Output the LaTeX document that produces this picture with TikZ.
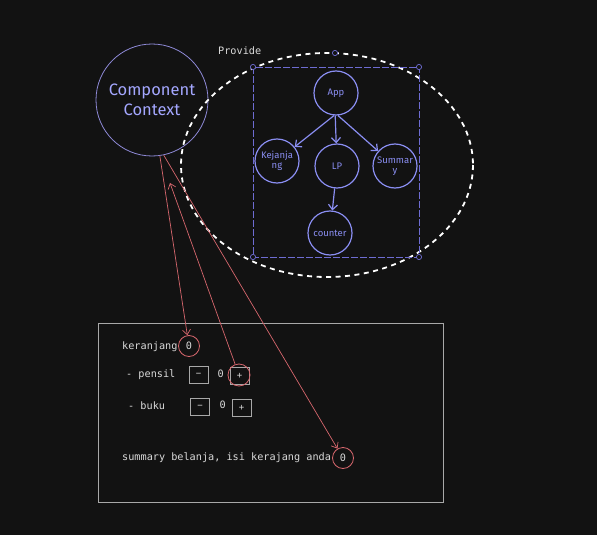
\documentclass[tikz,border=0pt]{standalone}
\usepackage{fontspec}
\setmonofont{DejaVu Sans Mono}
\newfontfamily\handfont{Fira Sans}
\usetikzlibrary{arrows.meta}

\definecolor{bgc}{HTML}{121212}
\definecolor{handtxt}{HTML}{A4A7FF}
\definecolor{ctxline}{HTML}{8E89D6}
\definecolor{nodeblue}{HTML}{8A8EF2}
\definecolor{selline}{HTML}{6E6CD2}
\definecolor{pinkred}{HTML}{D7676E}
\definecolor{boxgray}{HTML}{A8A8A8}
\definecolor{monotxt}{HTML}{DADADA}

\begin{document}
\begin{tikzpicture}[x=1pt,y=-1pt]
  \tikzstyle{cnode} = [draw=nodeblue, line width=1.2pt, circle, minimum size=44pt, inner sep=0pt,
                       text=nodeblue, font=\handfont\fontsize{9.5}{10.5}\selectfont, align=center]
  \tikzstyle{mtext} = [anchor=west, inner sep=0pt, text=monotxt, font=\ttfamily\fontsize{10.2}{12}\selectfont]
  \tikzstyle{btn} = [draw=boxgray, line width=0.8pt, minimum width=19pt, minimum height=17pt, inner sep=0pt,
                     text=monotxt, font=\ttfamily\fontsize{9}{10}\selectfont]
  \tikzstyle{zring} = [draw=pinkred, line width=0.8pt, circle, minimum size=21pt, inner sep=0pt,
                       text=monotxt, font=\ttfamily\fontsize{10.2}{12}\selectfont]
  \tikzstyle{tree} = [draw=nodeblue, line width=1.2pt, -{Straight Barb[length=5pt,width=9pt]}]
  \tikzstyle{link} = [draw=pinkred, line width=0.7pt, -{Straight Barb[length=5pt,width=8pt]}]
  \tikzstyle{handle} = [draw=selline, line width=0.7pt, fill=bgc]

  \fill[bgc] (0,0) rectangle (597,535);
  \useasboundingbox (0,0) rectangle (597,535);

  % context
  \node[draw=ctxline, line width=0.8pt, circle, minimum size=112pt, inner sep=0pt, text=handtxt,
        font=\handfont\fontsize{16.5}{20}\selectfont, align=center] (ctx) at (152,100) {Component\\Context};
  \node[mtext] (prov) at (218,51) {Provide};

  % provider area
  \draw[white, line width=1.8pt, dash pattern=on 5pt off 4.5pt] (327,165) ellipse [x radius=146, y radius=112];
  \draw[selline, line width=0.8pt, dash pattern=on 7pt off 2pt] (253,67) rectangle (419,257);
  \foreach \hx/\hy in {253/67, 419/67, 253/257, 419/257, 335/53}
    \draw[handle] (\hx,\hy) circle (2.6);

  % component tree
  \node[cnode] (app) at (336,93) {App};
  \node[cnode] (kej) at (277,161) {Kejanja\\ng};
  \node[cnode] (lp) at (337,166) {LP};
  \node[cnode] (sum) at (395,166) {Summar\\y};
  \node[cnode] (cnt) at (330,233) {counter};
  \draw[tree] (app.-95) -- (kej);
  \draw[tree] (app.-92) -- (lp);
  \draw[tree] (app.-85) -- (sum);
  \draw[tree] (lp) -- (cnt);

  % page
  \draw[boxgray, line width=0.8pt] (98,323) rectangle (443,502);
  \node[mtext] (kerlbl) at (122,347) {keranjang};
  \node[zring] (zker) at (189,346) {0};
  \node[mtext] (penlbl) at (126,375) {- pensil};
  \node[btn] (penmin) at (198.5,374.5) {\textminus};
  \node[mtext] (pennum) at (217.5,374) {0};
  \node[btn] (penplus) at (239.5,375.5) {+};
  \node[draw=pinkred, line width=0.8pt, circle, minimum size=22pt, inner sep=0pt] (zpen) at (239,375) {};
  \node[mtext] (buklbl) at (128,406) {- buku};
  \node[btn] (bukmin) at (200,406.5) {\textminus};
  \node[mtext] (buknum) at (219.5,405) {0};
  \node[btn] (bukplus) at (241.5,407.5) {+};
  \node[mtext] (sumlbl) at (122,458) {summary belanja, isi kerajang anda};
  \node[zring] (zsum) at (343,458) {0};

  % context links
  \coordinate (up) at (170,183);
  \draw[link] (ctx.-82) -- (zker);
  \draw[link] (zpen) -- (up);
  \draw[link] (ctx.-78) -- (zsum);
\end{tikzpicture}
\end{document}
